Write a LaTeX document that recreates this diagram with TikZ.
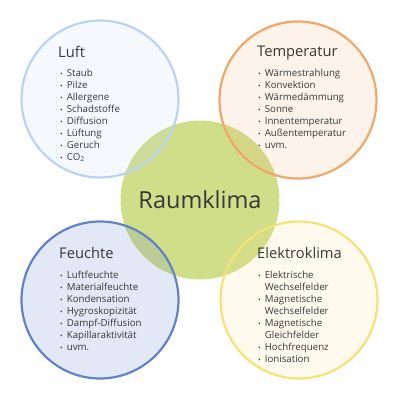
\documentclass[tikz,border=0pt]{standalone}
\usepackage{fontspec}
\setmainfont{Open Sans}
\definecolor{txt}{RGB}{55,55,55}
\definecolor{luftc}{RGB}{185,212,240}
\definecolor{tempc}{RGB}{240,168,105}
\definecolor{feuc}{RGB}{95,130,200}
\definecolor{elekc}{RGB}{246,226,115}
\definecolor{raumc}{RGB}{208,222,138}
\tikzset{
  topic/.style={circle, minimum size=157pt, inner sep=0pt, line width=2.2pt},
  title/.style={anchor=base west, inner sep=0pt, text=txt, font=\fontsize{14.7}{17}\selectfont},
  items/.style={anchor=base west, inner sep=0pt, text=txt, font=\fontsize{9.7}{12}\selectfont},
}
\newcommand{\bl}{{\fontsize{7}{8}\selectfont•}}
\begin{document}
\begin{tikzpicture}[x=1pt,y=-1pt]
\useasboundingbox (0,0) rectangle (400,400);
\node[circle, minimum size=159pt, inner sep=0pt, fill=raumc] (raum) at (200,200) {};
\node[topic, draw=luftc, fill=luftc, fill opacity=0.15] (luft) at (100,99) {};
\node[topic, draw=tempc, fill=tempc, fill opacity=0.14] (temp) at (298,100) {};
\node[topic, draw=feuc, fill=feuc, fill opacity=0.18] (feu) at (100,300) {};
\node[topic, draw=elekc, fill=elekc, fill opacity=0.12] (elek) at (299,300) {};
\node[text=txt, font=\fontsize{23.5}{27}\selectfont] (raumt) at (raum.center) {Raumklima};

\node[title] (luftt) at (58,57) {Luft};
\node[items] (lufti) at (60,76) {\begin{tabular}[t]{@{}l@{\hspace{4pt}}l@{}}
\bl & Staub\\ \bl & Pilze\\ \bl & Allergene\\ \bl & Schadstoffe\\ \bl & Diffusion\\ \bl & Lüftung\\ \bl & Geruch\\ \bl & CO\textsubscript{2}
\end{tabular}};

\node[title] (tempt) at (257,56) {Temperatur};
\node[items] (tempi) at (258,76) {\begin{tabular}[t]{@{}l@{\hspace{4pt}}l@{}}
\bl & Wärmestrahlung\\ \bl & Konvektion\\ \bl & Wärmedämmung\\ \bl & Sonne\\ \bl & Innentemperatur\\ \bl & Außentemperatur\\ \bl & uvm.
\end{tabular}};

\node[title] (feut) at (59,258) {Feuchte};
\node[items] (feui) at (60,278) {\begin{tabular}[t]{@{}l@{\hspace{4pt}}l@{}}
\bl & Luftfeuchte\\ \bl & Materialfeuchte\\ \bl & Kondensation\\ \bl & Hygroskopizität\\ \bl & Dampf-Diffusion\\ \bl & Kapillaraktivität\\ \bl & uvm.
\end{tabular}};

\node[title] (elekt) at (257,258) {Elektroklima};
\node[items] (speci) at (258,278) {\begin{tabular}[t]{@{}l@{\hspace{4pt}}l@{}}
\bl & Elektrische\\ & Wechselfelder\\ \bl & Magnetische\\ & Wechselfelder\\ \bl & Magnetische\\ & Gleichfelder\\ \bl & Hochfrequenz\\ \bl & Ionisation
\end{tabular}};
\end{tikzpicture}
\end{document}
